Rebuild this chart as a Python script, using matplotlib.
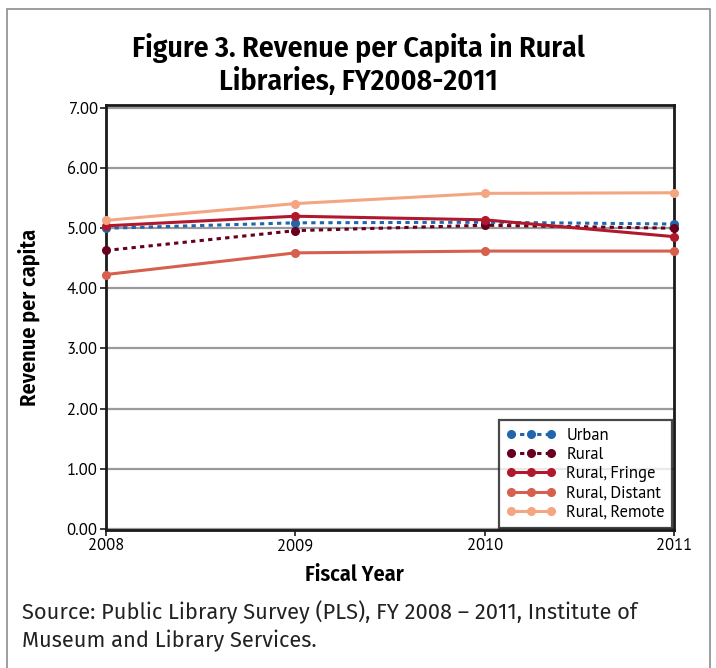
import matplotlib
matplotlib.use("Agg")
import matplotlib.pyplot as plt
from matplotlib.patches import Rectangle
from matplotlib import font_manager

years = [2008, 2009, 2010, 2011]
series_names = ["Urban", "Rural", "Rural, Fringe", "Rural, Distant", "Rural, Remote"]
urban = [5.00, 5.09, 5.10, 5.07]
rural = [4.63, 4.96, 5.05, 5.00]
rural_fringe = [5.04, 5.20, 5.14, 4.86]
rural_distant = [4.23, 4.59, 4.62, 4.62]
rural_remote = [5.13, 5.41, 5.58, 5.59]
y_ticks = [0, 1, 2, 3, 4, 5, 6, 7]

colors = ["#2166ac", "#67001f", "#b2182b", "#d6604d", "#f4a582"]
styles = [(0, (1.4, 1.4)), (0, (1.4, 1.4)), "-", "-", "-"]

installed = {f.name for f in font_manager.fontManager.ttflist}


def pick(*cands):
    for c in cands:
        if c in installed:
            return c
    return "DejaVu Sans"


cond = pick("Fira Sans Condensed", "Archivo Narrow", "Barlow Condensed")
body = pick("PT Sans", "Lato", "Fira Sans")
note = pick("Fira Sans", "Lato")

W, H = 716, 668
fig = plt.figure(figsize=(W / 100, H / 100), dpi=100)

# outer frame
fig.patches.append(Rectangle((7 / W, -0.05), 703 / W, 1 - 9 / H + 0.05,
                             transform=fig.transFigure, fill=False,
                             edgecolor="#8c8c8c", linewidth=1.2))

ax = fig.add_axes([106 / W, 1 - 530 / H, (674 - 106) / W, (530 - 105) / H])

data = [urban, rural, rural_fringe, rural_distant, rural_remote]
for name, vals, c, ls in zip(series_names, data, colors, styles):
    ax.plot(years, vals, color=c, linestyle=ls, linewidth=2.2,
            marker="o", markersize=5.5, label=name, zorder=3, clip_on=False)

ax.set_xlim(2008, 2011)
ax.set_ylim(-0.02, 7.05)
ax.set_xticks(years)
ax.set_xticklabels([str(y) for y in years], fontsize=12, family=body)
ax.set_yticks(y_ticks)
ax.set_yticklabels([f"{v:.2f}" for v in y_ticks], fontsize=12, family=body)
ax.yaxis.grid(True, color="#9a9a9a", linewidth=1.6, zorder=0)
ax.set_axisbelow(True)
for s in ax.spines.values():
    s.set_color("#1a1a1a")
    s.set_linewidth(2.0)
ax.tick_params(axis="both", length=4, width=1.2, color="#1a1a1a", pad=2)

ax.set_ylabel("Revenue per capita", fontsize=16, fontweight="semibold",
              family=cond)
ax.yaxis.set_label_coords(-66 / 568, 0.5)
ax.set_xlabel("Fiscal Year", fontsize=16, fontweight="semibold", family=cond)
ax.xaxis.set_label_coords((354 - 106) / 568, -34 / 425)

leg = ax.legend(loc="lower right", bbox_to_anchor=(1.0, 0.0),
                prop={"family": body, "size": 12}, numpoints=3,
                frameon=True, fancybox=False, borderaxespad=0.1,
                handlelength=3.0, handletextpad=0.6,
                labelspacing=0.2, borderpad=0.45)
leg.get_frame().set_edgecolor("#1a1a1a")
leg.get_frame().set_linewidth(1.6)

fig.text(358 / W, 1 - 48 / H, "Figure 3. Revenue per Capita in Rural",
         ha="center", va="center", fontsize=21.5, fontweight="semibold", family=cond)
fig.text(358 / W, 1 - 81 / H, "Libraries, FY2008-2011",
         ha="center", va="center", fontsize=21.5, fontweight="semibold", family=cond)

fig.text(22 / W, 1 - 612 / H,
         "Source: Public Library Survey (PLS), FY 2008 \u2013 2011, Institute of",
         ha="left", va="center", fontsize=15.7, family=note, color="#222222")
fig.text(22 / W, 1 - 641 / H, "Museum and Library Services.",
         ha="left", va="center", fontsize=15.7, family=note, color="#222222")

fig.savefig("out.png", dpi=100)
